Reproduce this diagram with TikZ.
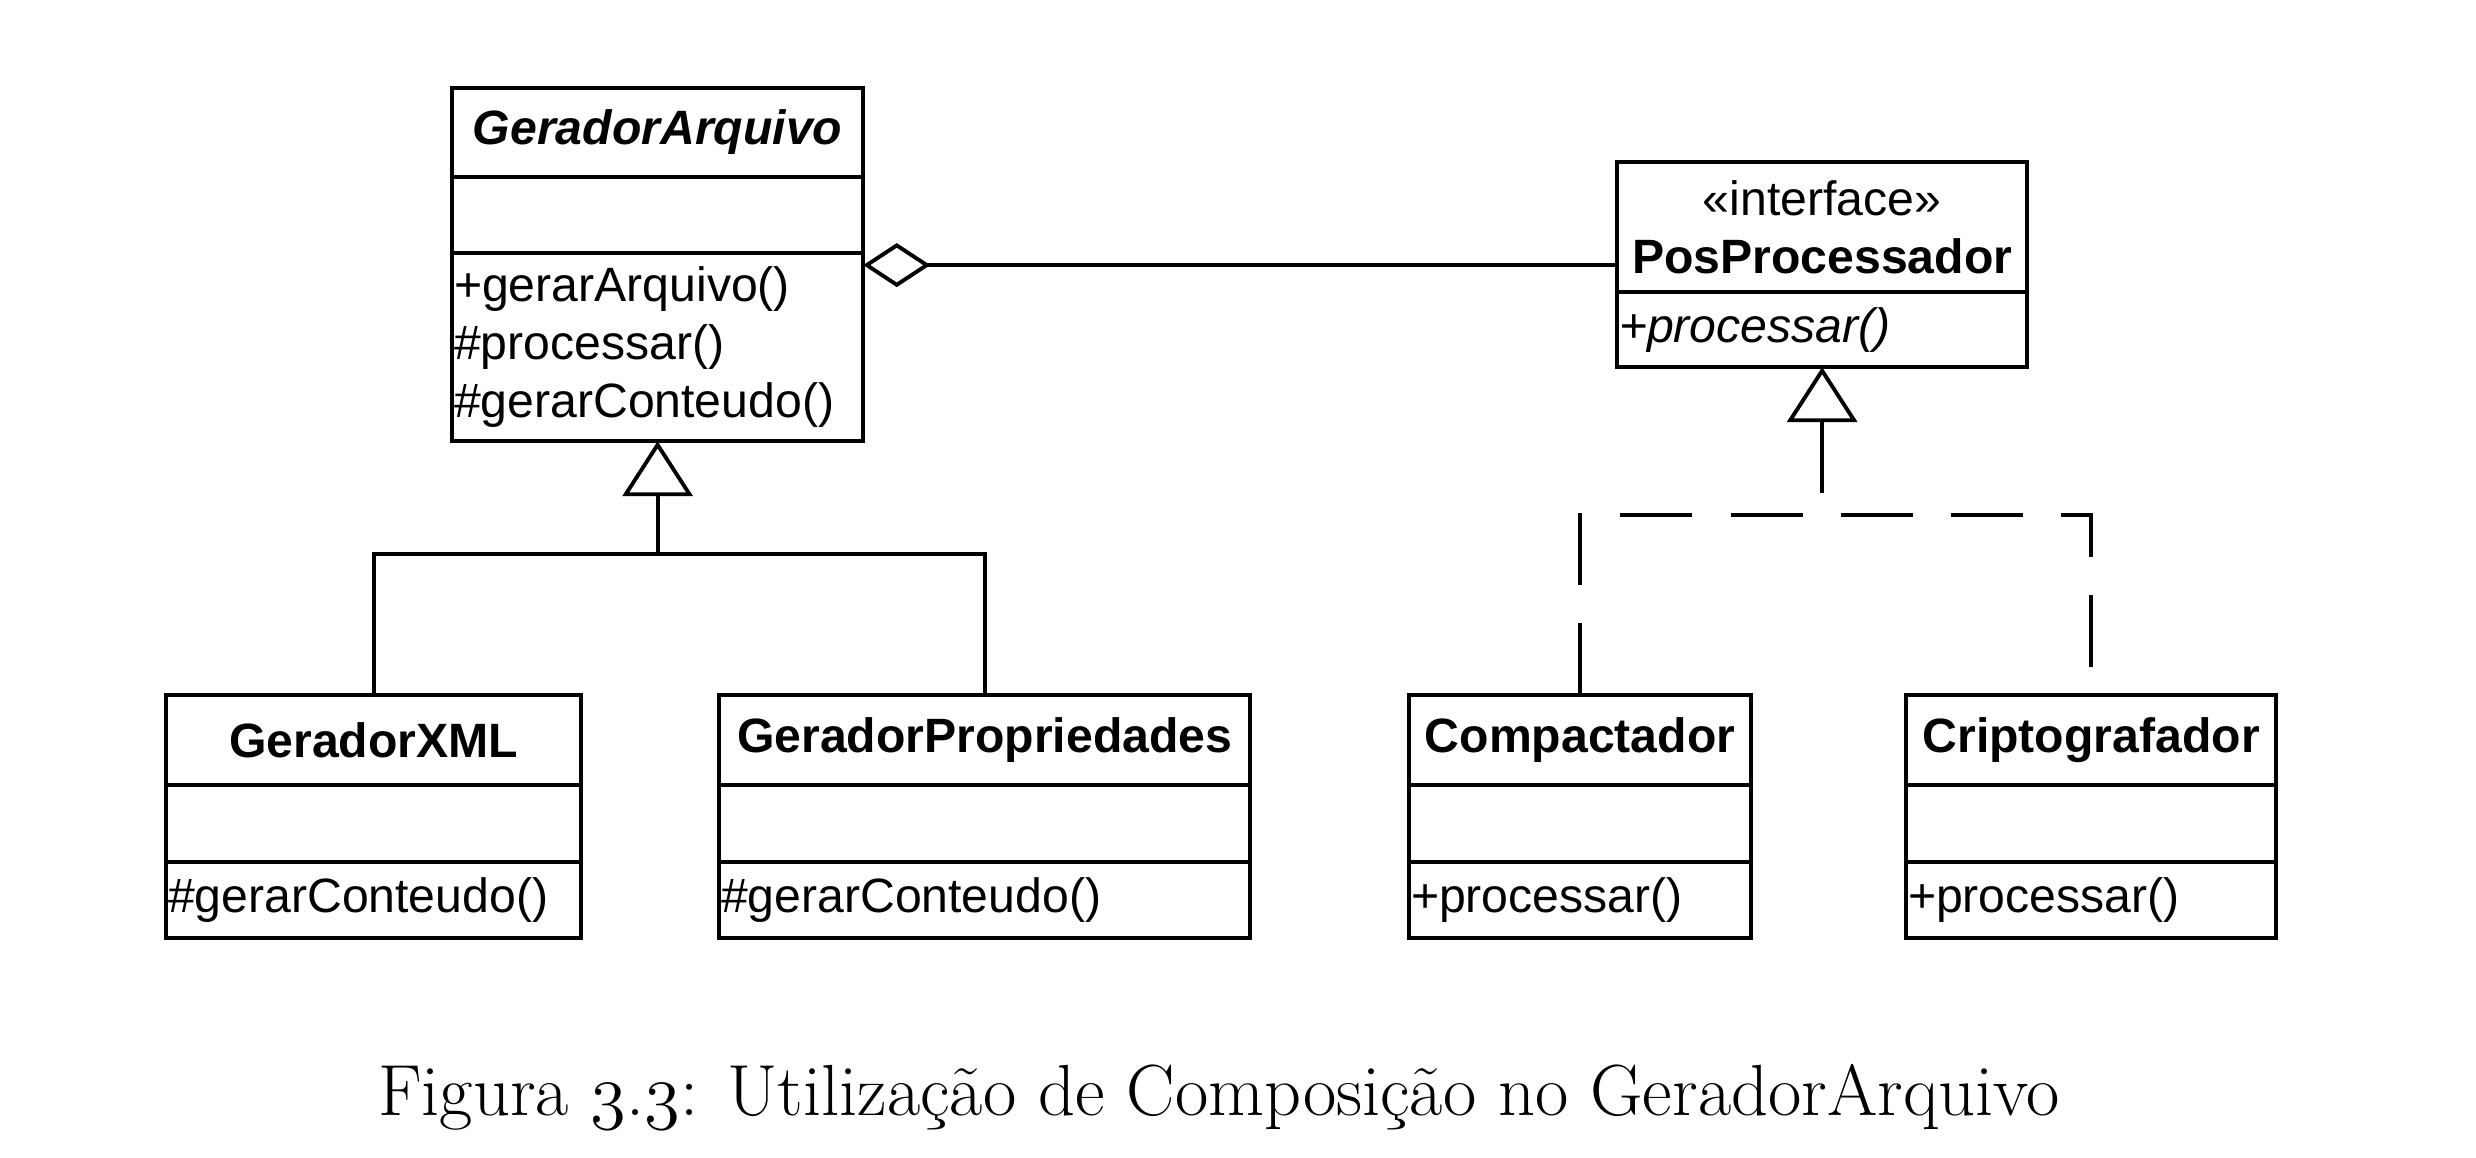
\documentclass[tikz,border=0pt]{standalone}
\usepackage{fontspec}
\newfontfamily\umlfont{Liberation Sans}
\newcommand\osdigit[1]{{\usefont{OML}{lmm}{m}{it}#1}}
\usetikzlibrary{positioning,arrows.meta}

\tikzset{
  umlpart/.style   = {shape=rectangle, draw, line width=1.1pt,
                      outer sep=0pt, inner sep=0pt,
                      font=\umlfont\fontsize{13.7}{16.5}\selectfont},
  namepart/.style  = {umlpart, align=center, anchor=north west,
                      font=\umlfont\bfseries\fontsize{13.7}{16.5}\selectfont},
  attrpart/.style  = {umlpart},
  opspart/.style   = {umlpart, align=left, inner xsep=0.02cm},
  assoc/.style     = {draw, line width=1.1pt},
  aggregation/.style = {assoc, {Diamond[open,length=0.67cm,width=0.44cm]}-},
  inherit/.style   = {assoc, {Triangle[open,length=0.55cm,width=0.70cm]}-},
  realize/.style   = {assoc, dash pattern=on 0.72cm off 0.38cm},
  caption/.style   = {anchor=base, font=\fontsize{20.6}{24}\selectfont}
}

\begin{document}
\begin{tikzpicture}[x=0.01cm, y=-0.01cm]
\useasboundingbox (0,0) rectangle (2476,1158);

% superclasse
\node[namepart, minimum width=4.11cm, minimum height=0.89cm] (ga-name) at (452,88) {\itshape GeradorArquivo};
\node[attrpart, below=0pt of ga-name, minimum width=4.11cm, minimum height=0.76cm] (ga-attr) {};
\node[opspart, below=0pt of ga-attr, text width=4.07cm, minimum height=1.88cm] (ga-ops)
  {+gerarArquivo()\\\#processar()\\\#gerarConteudo()};

% interface
\node[namepart, minimum width=4.10cm, minimum height=1.30cm] (pp-name) at (1617,162)
  {{\mdseries «interface»}\\PosProcessador};
\node[opspart, below=0pt of pp-name, text width=4.06cm, minimum height=0.75cm] (pp-ops) {\itshape +processar()};

% subclasses
\node[namepart, minimum width=4.15cm, minimum height=0.90cm] (gx-name) at (166,695) {GeradorXML};
\node[attrpart, below=0pt of gx-name, minimum width=4.15cm, minimum height=0.77cm] (gx-attr) {};
\node[opspart, below=0pt of gx-attr, text width=4.11cm, minimum height=0.76cm] (gx-ops) {\#gerarConteudo()};

\node[namepart, minimum width=5.31cm, minimum height=0.90cm] (gp-name) at (719,695) {GeradorPropriedades};
\node[attrpart, below=0pt of gp-name, minimum width=5.31cm, minimum height=0.77cm] (gp-attr) {};
\node[opspart, below=0pt of gp-attr, text width=5.27cm, minimum height=0.76cm] (gp-ops) {\#gerarConteudo()};

% implementacoes
\node[namepart, minimum width=3.42cm, minimum height=0.90cm] (cp-name) at (1409,695) {Compactador};
\node[attrpart, below=0pt of cp-name, minimum width=3.42cm, minimum height=0.77cm] (cp-attr) {};
\node[opspart, below=0pt of cp-attr, text width=3.38cm, minimum height=0.76cm] (cp-ops) {+processar()};

\node[namepart, minimum width=3.70cm, minimum height=0.90cm] (cr-name) at (1906,695) {Criptografador};
\node[attrpart, below=0pt of cr-name, minimum width=3.70cm, minimum height=0.77cm] (cr-attr) {};
\node[opspart, below=0pt of cr-attr, text width=3.66cm, minimum height=0.76cm] (cr-ops) {+processar()};

% relacoes
\coordinate[below=0.12cm of ga-ops.north east] (agg);
\draw[aggregation] (agg) -- (agg -| pp-name.west);

\coordinate[below=1.13cm of ga-ops.south] (hubL);
\draw[inherit] (ga-ops.south) -- (hubL);
\draw[assoc] (gx-name.north) |- (hubL) -| (gp-name.north);

\coordinate[below=1.48cm of pp-ops.south] (hubR);
\draw[inherit, realize] (pp-ops.south) -- (hubR);
\draw[realize] (cp-name.north) |- (hubR) -| (cr-name.north);

% legenda
\node[caption] (legenda) at (1219,1115) {Figura \osdigit{3}.\osdigit{3}: Utilização de Composição no GeradorArquivo};
\end{tikzpicture}
\end{document}
